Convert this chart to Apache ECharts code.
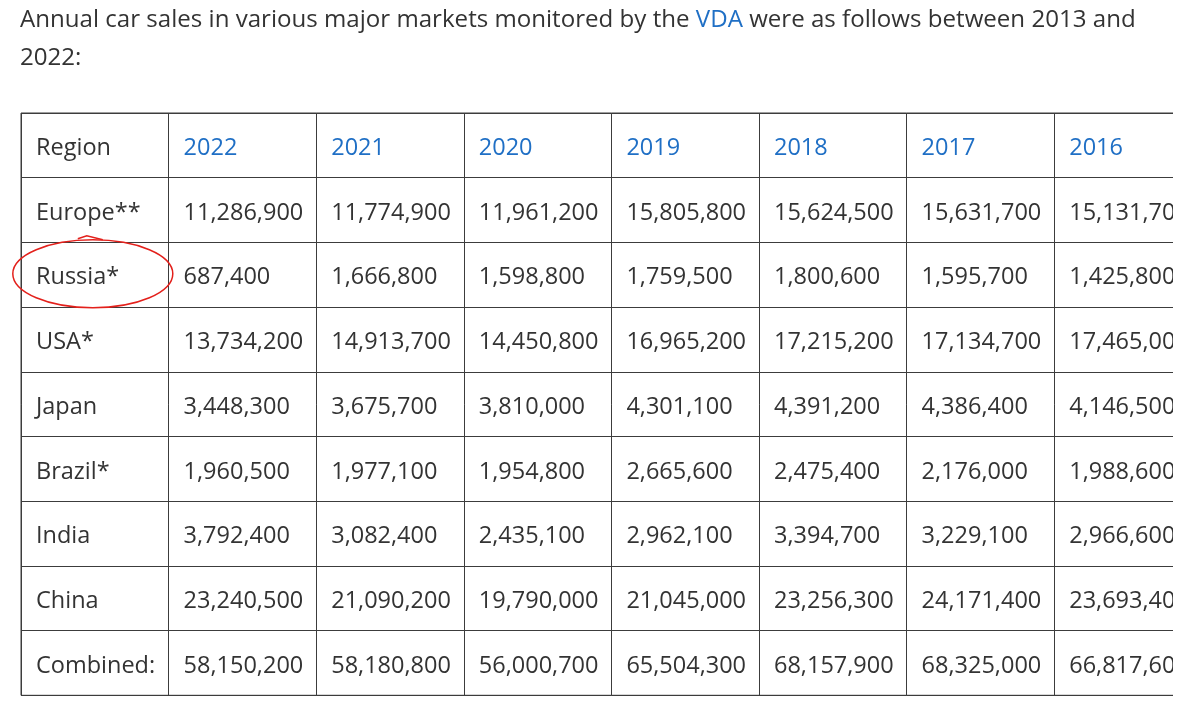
<!DOCTYPE html>
<html>
<head>
<meta charset="utf-8">
<script src="https://cdn.jsdelivr.net/npm/echarts@6/dist/echarts.min.js"></script>
<style>
  html, body { margin: 0; padding: 0; background: #fff; overflow: hidden; }
  #clip { width: 1173px; height: 712px; overflow: hidden; }
  #chart { width: 1210px; height: 712px; }
</style>
</head>
<body>
<div id="clip"><div id="chart"></div></div>
<script>
// Table content
const columns = ['Region', '2022', '2021', '2020', '2019', '2018', '2017', '2016'];
const regions = ['Europe**', 'Russia*', 'USA*', 'Japan', 'Brazil*', 'India', 'China', 'Combined:'];

const europe   = [11286900, 11774900, 11961200, 15805800, 15624500, 15631700, 15131700];
const russia   = [687400, 1666800, 1598800, 1759500, 1800600, 1595700, 1425800];
const usa      = [13734200, 14913700, 14450800, 16965200, 17215200, 17134700, 17465000];
const japan    = [3448300, 3675700, 3810000, 4301100, 4391200, 4386400, 4146500];
const brazil   = [1960500, 1977100, 1954800, 2665600, 2475400, 2176000, 1988600];
const india    = [3792400, 3082400, 2435100, 2962100, 3394700, 3229100, 2966600];
const china    = [23240500, 21090200, 19790000, 21045000, 23256300, 24171400, 23693400];
const combined = [58150200, 58180800, 56000700, 65504300, 68157900, 68325000, 66817600];

const rows = [europe, russia, usa, japan, brazil, india, china, combined];
const highlighted = 'Russia*';

const TEXT = '#333333';
const BLUE = '#1f6fc5';
const LINE = '#3c3c3c';
const FONT = '"Open Sans", "Noto Sans", sans-serif';
const SIZE = 23.5;
const TITLE_SIZE = 24.1;

const fmt = (v) => v.toLocaleString('en-US');

// cells: [column, row, text, isHeaderYear]
const yCats = ['header'].concat(regions);
const cells = [];
columns.forEach((c, i) => cells.push([c, 'header', c, i > 0 ? 1 : 0]));
regions.forEach((r, ri) => {
  cells.push([columns[0], r, r, 0]);
  rows[ri].forEach((v, ci) => cells.push([columns[ci + 1], r, fmt(v), 0]));
});

const chart = echarts.init(document.getElementById('chart'));

const option = {
  animation: false,
  title: {
    left: 20,
    top: 1,
    padding: 0,
    text: '{a|Annual car sales in various major markets monitored by the }{b|VDA}{a| were as follows between 2013 and}\n{a|2022:}',
    textStyle: {
      fontWeight: 'normal',
      rich: {
        a: { color: TEXT, fontSize: TITLE_SIZE, fontFamily: FONT, fontWeight: 'normal', lineHeight: 38 },
        b: { color: BLUE, fontSize: TITLE_SIZE, fontFamily: FONT, fontWeight: 'normal', lineHeight: 38 }
      }
    }
  },
  grid: {
    left: 21,
    top: 113,
    width: 8 * 147.6,
    height: 9 * 64.7,
    show: true,
    borderColor: LINE,
    borderWidth: 1
  },
  xAxis: {
    type: 'category',
    data: columns,
    position: 'top',
    axisLine: { show: false },
    axisTick: { show: false },
    axisLabel: { show: false },
    splitLine: { show: true, interval: 0, lineStyle: { color: LINE, width: 1 } }
  },
  yAxis: {
    type: 'category',
    data: yCats,
    inverse: true,
    axisLine: { show: false },
    axisTick: { show: false },
    axisLabel: { show: false },
    splitLine: { show: true, interval: 0, lineStyle: { color: LINE, width: 1 } }
  },
  series: [{
    type: 'custom',
    silent: true,
    data: cells,
    encode: { x: 0, y: 1 },
    renderItem: (params, api) => {
      const p = api.coord([api.value(0), api.value(1)]);
      const s = api.size([1, 1]);
      const item = cells[params.dataIndex];
      return {
        type: 'text',
        x: p[0] - s[0] / 2 + 15,
        y: p[1] + 3,
        style: {
          text: item[2],
          fill: item[3] ? BLUE : TEXT,
          fontSize: SIZE,
          fontFamily: FONT,
          verticalAlign: 'middle',
          align: 'left'
        }
      };
    }
  }]
};

chart.setOption(option);

// hand-drawn style ring around the highlighted region cell
const c = chart.convertToPixel({ xAxisIndex: 0, yAxisIndex: 0 }, [columns[0], highlighted]);
chart.setOption({
  graphic: [{
    type: 'ellipse',
    shape: { cx: c[0] - 2, cy: c[1] - 1, rx: 80, ry: 34 },
    style: { fill: 'none', stroke: '#e3201b', lineWidth: 1.5 }
  }, {
    type: 'polyline',
    shape: { points: [[c[0] - 17, c[1] - 36], [c[0] - 8, c[1] - 39], [c[0] + 8, c[1] - 35]] },
    style: { fill: 'none', stroke: '#e3201b', lineWidth: 1.5 }
  }]
});
</script>
</body>
</html>
